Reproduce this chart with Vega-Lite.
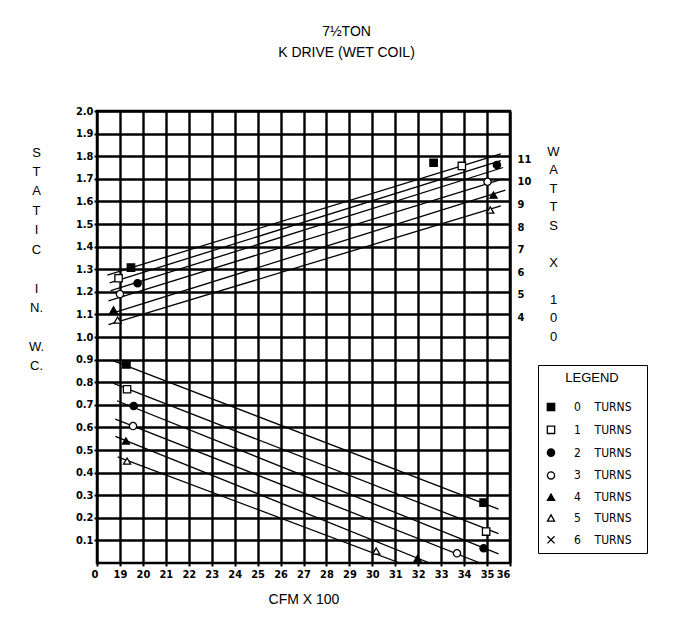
{
  "$schema": "https://vega.github.io/schema/vega-lite/v6.json",
  "width": 413,
  "height": 452,
  "autosize": {"type": "none"},
  "padding": {"left": 97, "top": 111, "right": 171, "bottom": 67},
  "background": "white",
  "title": {
    "text": "7½TON",
    "subtitle": "K DRIVE (WET COIL)",
    "anchor": "middle",
    "frame": "group",
    "dx": 43,
    "offset": 45,
    "font": "Liberation Sans",
    "fontSize": 14,
    "fontWeight": "normal",
    "color": "black",
    "subtitleFont": "Liberation Sans",
    "subtitleFontSize": 14,
    "subtitleColor": "black",
    "subtitlePadding": 7
  },
  "config": {
    "view": {"stroke": "black", "strokeWidth": 2.5},
    "axis": {
      "gridColor": "black",
      "gridWidth": 2.4,
      "gridOpacity": 1,
      "domain": false,
      "tickColor": "black",
      "tickWidth": 2,
      "labelColor": "black",
      "labelFont": "DejaVu Sans Condensed",
      "labelFontWeight": "bold",
      "labelFontSize": 11,
      "titleColor": "black",
      "titleFont": "Liberation Sans",
      "titleFontWeight": "normal",
      "titleFontSize": 14
    }
  },
  "data": {
    "values": [
      {"kind": "ln", "id": "s0", "turns": "0", "cfm": 18.72, "val": 0.894},
      {"kind": "ln", "id": "s0", "turns": "0", "cfm": 35.5, "val": 0.238},
      {"kind": "ln", "id": "s1", "turns": "1", "cfm": 18.72, "val": 0.795},
      {"kind": "ln", "id": "s1", "turns": "1", "cfm": 35.5, "val": 0.13},
      {"kind": "ln", "id": "s2", "turns": "2", "cfm": 18.87, "val": 0.718},
      {"kind": "ln", "id": "s2", "turns": "2", "cfm": 35.5, "val": 0.04},
      {"kind": "ln", "id": "s3", "turns": "3", "cfm": 18.8, "val": 0.637},
      {"kind": "ln", "id": "s3", "turns": "3", "cfm": 34.7, "val": 0.0},
      {"kind": "ln", "id": "s4", "turns": "4", "cfm": 18.8, "val": 0.56},
      {"kind": "ln", "id": "s4", "turns": "4", "cfm": 32.5, "val": 0.0},
      {"kind": "ln", "id": "s5", "turns": "5", "cfm": 18.9, "val": 0.47},
      {"kind": "ln", "id": "s5", "turns": "5", "cfm": 31.2, "val": 0.0},
      {"kind": "ln", "id": "w0", "turns": "0", "cfm": 18.45, "val": 1.274},
      {"kind": "ln", "id": "w0", "turns": "0", "cfm": 35.6, "val": 1.81},
      {"kind": "ln", "id": "w1", "turns": "1", "cfm": 18.55, "val": 1.24},
      {"kind": "ln", "id": "w1", "turns": "1", "cfm": 35.6, "val": 1.78},
      {"kind": "ln", "id": "w2", "turns": "2", "cfm": 18.6, "val": 1.205},
      {"kind": "ln", "id": "w2", "turns": "2", "cfm": 35.7, "val": 1.75},
      {"kind": "ln", "id": "w3", "turns": "3", "cfm": 18.5, "val": 1.16},
      {"kind": "ln", "id": "w3", "turns": "3", "cfm": 35.7, "val": 1.70},
      {"kind": "ln", "id": "w4", "turns": "4", "cfm": 18.5, "val": 1.10},
      {"kind": "ln", "id": "w4", "turns": "4", "cfm": 35.8, "val": 1.65},
      {"kind": "ln", "id": "w5", "turns": "5", "cfm": 18.5, "val": 1.055},
      {"kind": "ln", "id": "w5", "turns": "5", "cfm": 35.6, "val": 1.58},
      {"kind": "pt", "turns": "0", "cfm": 19.28, "val": 0.879},
      {"kind": "pt", "turns": "0", "cfm": 34.85, "val": 0.267},
      {"kind": "pt", "turns": "1", "cfm": 19.31, "val": 0.769},
      {"kind": "pt", "turns": "1", "cfm": 34.96, "val": 0.139},
      {"kind": "pt", "turns": "2", "cfm": 19.6, "val": 0.695},
      {"kind": "pt", "turns": "2", "cfm": 34.85, "val": 0.065},
      {"kind": "pt", "turns": "3", "cfm": 19.57, "val": 0.606},
      {"kind": "pt", "turns": "3", "cfm": 33.69, "val": 0.043},
      {"kind": "pt", "turns": "4", "cfm": 19.26, "val": 0.54},
      {"kind": "pt", "turns": "4", "cfm": 31.97, "val": 0.02},
      {"kind": "pt", "turns": "5", "cfm": 19.31, "val": 0.451},
      {"kind": "pt", "turns": "5", "cfm": 30.17, "val": 0.053},
      {"kind": "pt", "turns": "0", "cfm": 19.48, "val": 1.307},
      {"kind": "pt", "turns": "0", "cfm": 32.67, "val": 1.771},
      {"kind": "pt", "turns": "1", "cfm": 18.94, "val": 1.26},
      {"kind": "pt", "turns": "1", "cfm": 33.9, "val": 1.757},
      {"kind": "pt", "turns": "2", "cfm": 19.77, "val": 1.238},
      {"kind": "pt", "turns": "2", "cfm": 35.43, "val": 1.761},
      {"kind": "pt", "turns": "3", "cfm": 19.0, "val": 1.19},
      {"kind": "pt", "turns": "3", "cfm": 35.02, "val": 1.687},
      {"kind": "pt", "turns": "4", "cfm": 18.72, "val": 1.12},
      {"kind": "pt", "turns": "4", "cfm": 35.28, "val": 1.628},
      {"kind": "pt", "turns": "5", "cfm": 18.9, "val": 1.075},
      {"kind": "pt", "turns": "5", "cfm": 35.14, "val": 1.562}
    ]
  },
  "encoding": {
    "x": {
      "field": "cfm",
      "type": "quantitative",
      "scale": {"domain": [18, 36], "nice": false, "zero": false},
      "axis": {
        "values": [18, 19, 20, 21, 22, 23, 24, 25, 26, 27, 28, 29, 30, 31, 32, 33, 34, 35, 36],
        "labelExpr": "datum.value == 18 ? '0' : datum.label",
        "labelOffset": {"condition": {"test": "datum.value == 18", "value": -6}, "value": 0},
        "grid": true,
        "tickSize": 3,
        "labelPadding": 2,
        "title": "CFM X 100",
        "titlePadding": 13
      }
    }
  },
  "layer": [
    {
      "transform": [{"filter": "datum.kind == 'ln'"}],
      "mark": {"type": "line", "color": "black", "strokeWidth": 1.3, "clip": true},
      "encoding": {
        "y": {
          "field": "val",
          "type": "quantitative",
          "scale": {"domain": [0, 2], "nice": false, "zero": false},
          "axis": {
            "orient": "left",
            "values": [0.1, 0.2, 0.3, 0.4, 0.5, 0.6, 0.7, 0.8, 0.9, 1.0, 1.1, 1.2, 1.3, 1.4, 1.5, 1.6, 1.7, 1.8, 1.9, 2.0],
            "format": ".1f",
            "grid": true,
            "tickSize": 3,
            "labelPadding": 1,
            "title": ["S", "T", "A", "T", "I", "C", "\u2800", "I", "N.", "\u2800", "W.", "C."],
            "titleAngle": 0,
            "titleAlign": "center",
            "titleBaseline": "top",
            "titleLineHeight": 19.45,
            "titleX": -61,
            "titleY": 35,
            "titleFontSize": 13
          }
        },
        "detail": {"field": "id"}
      }
    },
    {
      "transform": [{"filter": "datum.kind == 'pt'"}],
      "mark": {"type": "point", "stroke": "black", "strokeWidth": 1.3, "opacity": 1, "fillOpacity": 1},
      "encoding": {
        "y": {
          "field": "val",
          "type": "quantitative",
          "axis": {
            "orient": "right",
            "values": [1.1, 1.2, 1.3, 1.4, 1.5, 1.6, 1.7, 1.8],
            "labelExpr": "format(round((datum.value - 0.7) * 10), 'd')",
            "grid": false,
            "ticks": false,
            "labelPadding": 7,
            "labelOffset": 3,
            "title": ["W", "A", "T", "T", "S", "\u2800", "X", "\u2800", "1", "0", "0"],
            "titleAngle": 0,
            "titleAlign": "center",
            "titleBaseline": "top",
            "titleLineHeight": 18.5,
            "titleX": 43,
            "titleY": 34,
            "titleFontSize": 13
          }
        },
        "shape": {
          "field": "turns",
          "type": "nominal",
          "scale": {
            "domain": ["0", "1", "2", "3", "4", "5", "6"],
            "range": ["square", "square", "circle", "circle", "triangle-up", "triangle-up", "M-1,-1L1,1M-1,1L1,-1"]
          },
          "legend": {
            "orient": "none",
            "legendX": 441,
            "legendY": 254,
            "title": "LEGEND",
            "titleFont": "Liberation Sans",
            "titleFontSize": 13,
            "titleFontWeight": "normal",
            "titleColor": "black",
            "titleAnchor": "middle",
            "titlePadding": 16,
            "padding": 7,
            "strokeColor": "black",
            "rowPadding": 8.8,
            "labelFont": "DejaVu Sans Condensed",
            "labelFontSize": 12,
            "labelColor": "black",
            "labelOffset": 17,
            "labelExpr": "datum.label + '\u00a0\u00a0\u00a0\u00a0TURNS\u2800'",
            "symbolStrokeColor": "black",
            "symbolStrokeWidth": 1.3
          }
        },
        "fill": {
          "field": "turns",
          "type": "nominal",
          "scale": {
            "domain": ["0", "1", "2", "3", "4", "5", "6"],
            "range": ["black", "white", "black", "white", "black", "white", "white"]
          }
        },
        "size": {
          "field": "turns",
          "type": "nominal",
          "scale": {
            "domain": ["0", "1", "2", "3", "4", "5", "6"],
            "range": [55, 50, 140, 110, 60, 45, 40]
          }
        }
      }
    }
  ],
  "resolve": {"axis": {"y": "independent"}}
}
